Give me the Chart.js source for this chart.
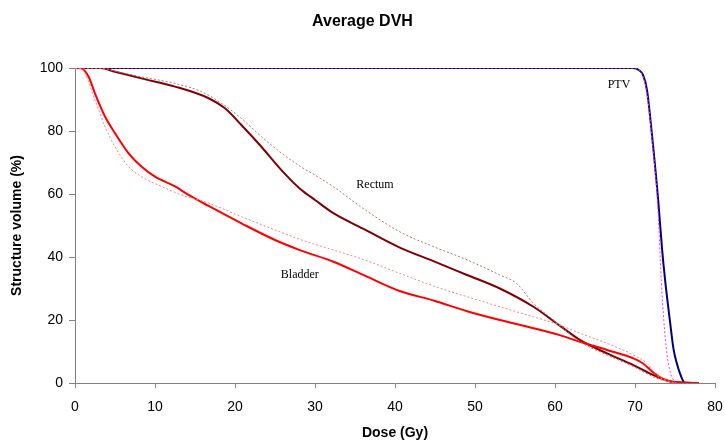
<!DOCTYPE html>
<html>
<head>
<meta charset="utf-8">
<script src="https://cdn.jsdelivr.net/npm/chart.js@4.4.0/dist/chart.umd.min.js"></script>
<style>
  html, body { margin: 0; padding: 0; background: #fff; }
  #wrap { width: 725px; height: 444px; position: relative; }
</style>
</head>
<body>
<div id="wrap"><canvas id="dvh"></canvas></div>
<script>
// dose (Gy) and structure volume (%)
const ptvDose = [0, 69.8, 70.5, 71.0, 71.5, 72.1, 72.9, 73.4, 73.75, 74.4, 74.8, 75.2, 75.7, 76.25, 77.5];
const ptvVol = [100, 100, 99.3, 97.8, 93, 79.3, 58, 42, 33, 19, 11, 6.5, 2.5, 0, 0];
const ptvAvgDose = [0, 70.0, 70.6, 71.1, 71.6, 72.1, 72.8, 73.3, 73.6, 74.0, 74.4, 74.8, 75.1];
const ptvAvgVol = [100, 100, 99, 96.5, 90, 78, 58, 32, 20, 9, 3.5, 1, 0];

const rectumDose = [0, 3.2, 5, 8.3, 12.5, 16.7, 18.75, 20.8, 23.3, 25.8, 28.2, 30, 32.3, 36.3, 40.6, 44.8, 49, 53.1, 57.3, 60.6, 63.1, 66.5, 69.8, 72.3, 74.8, 78];
const rectumVol = [100, 100, 98.8, 96.7, 94.1, 90.4, 87.2, 81.9, 75, 67.6, 61.5, 58.1, 53.9, 48.6, 43, 38.7, 34.3, 30, 24.2, 18.2, 13.7, 9.4, 5.7, 2.5, 0.3, 0];
const rectumAvgDose = [0, 3, 5, 8.3, 12.5, 15.8, 18.3, 20.8, 23.3, 25.8, 28.2, 30, 32.3, 36.3, 40.6, 44.8, 49, 53.1, 55.2, 57.3, 59.8, 61.5, 63.1, 66.5, 69.8, 72.7, 74.8];
const rectumAvgVol = [100, 100, 99, 97.2, 95.1, 92.5, 88.8, 84, 78.2, 73, 68.7, 66, 62.3, 54.9, 48, 43.3, 39.1, 34.3, 31.6, 25.3, 20, 16.3, 13.1, 8.9, 5.2, 1.5, 0.1];

const bladderDose = [0, 0.8, 1.7, 2.5, 3.75, 5, 6.7, 8.3, 10, 12.5, 14.2, 16.7, 20.8, 25, 28.1, 32.3, 36.3, 40.6, 44.8, 49, 53.1, 57.3, 60.6, 63.1, 66.5, 69.8, 71, 72.3, 73.5, 75.2, 78];
const bladderVol = [100, 99.9, 97.2, 91.9, 84.6, 79.3, 72.9, 68.7, 65.5, 62.4, 59.7, 56.2, 50.7, 45.4, 42.2, 38.5, 34, 29.2, 26.2, 22.8, 20, 17.4, 15.2, 13.1, 10.5, 7.8, 6.2, 3.3, 1.3, 0.2, 0];
const bladderAvgDose = [0, 0.6, 1.25, 2.5, 3.75, 5, 6.7, 8.3, 10.8, 13.3, 16.7, 20.8, 25, 28.1, 32.3, 36.3, 40.6, 44.8, 49, 53.1, 57.3, 60.6, 63.1, 66.5, 69.8, 71.5, 72.7, 74.4, 75.2];
const bladderAvgVol = [100, 100, 98.3, 89.8, 81.4, 75, 68.7, 65.5, 62.4, 59.7, 57.1, 52.8, 48.6, 45.6, 42.2, 39, 34.8, 30.8, 27.4, 24.2, 21, 18.4, 15.8, 12.6, 8.9, 6.2, 2.5, 0.4, 0];

const curveLabels = [
  { text: 'PTV', x: 68, y: 94.6 },
  { text: 'Rectum', x: 37.5, y: 62.9 },
  { text: 'Bladder', x: 28.1, y: 34.3 }
];

const pts = (xs, ys) => xs.map((x, i) => ({ x: x, y: ys[i] }));

const line = (label, xs, ys, color, dashed) => ({
  label: label,
  data: pts(xs, ys),
  borderColor: color,
  borderWidth: dashed ? 1 : 2,
  borderDash: dashed ? [2, 2] : [],
  pointRadius: 0,
  fill: false,
  cubicInterpolationMode: 'monotone'
});

const curveText = {
  id: 'curveText',
  afterDatasetsDraw(chart) {
    const { ctx, scales } = chart;
    ctx.save();
    ctx.font = '12px "Liberation Serif", "DejaVu Serif", serif';
    ctx.fillStyle = '#000';
    ctx.textAlign = 'center';
    ctx.textBaseline = 'middle';
    curveLabels.forEach(l => {
      ctx.fillText(l.text, scales.x.getPixelForValue(l.x), scales.y.getPixelForValue(l.y));
    });
    ctx.restore();
  }
};

const font = '"Liberation Sans", Arial, sans-serif';

new Chart(document.getElementById('dvh'), {
  type: 'line',
  data: {
    datasets: [
      line('Bladder avg', bladderAvgDose, bladderAvgVol, '#ff8080', true),
      line('Rectum avg', rectumAvgDose, rectumAvgVol, '#c07070', true),
      line('PTV avg', ptvAvgDose, ptvAvgVol, '#ff33ff', true),
      line('Bladder', bladderDose, bladderVol, '#ff0000', false),
      line('Rectum', rectumDose, rectumVol, '#800000', false),
      line('PTV', ptvDose, ptvVol, '#000080', false)
    ]
  },
  options: {
    responsive: true,
    maintainAspectRatio: false,
    animation: false,
    layout: { padding: 0 },
    plugins: {
      legend: { display: false },
      tooltip: { enabled: false },
      title: {
        display: true,
        text: 'Average DVH',
        color: '#000',
        font: { family: font, size: 16, weight: 'bold' },
        padding: { top: 12, bottom: 36.8 }
      }
    },
    scales: {
      x: {
        type: 'linear',
        min: 0,
        max: 80,
        afterFit: s => {
          s.height = 61;
          // tick padding otherwise gets added to the right margin
          s.paddingLeft = 4;
          s.paddingRight = 10;
        },
        border: { color: '#808080', width: 1 },
        grid: { drawOnChartArea: false, color: '#808080', tickLength: 5 },
        ticks: { stepSize: 10, color: '#000', padding: 11, maxRotation: 0, font: { family: font, size: 14 } },
        title: {
          display: true,
          text: 'Dose (Gy)',
          color: '#000',
          font: { family: font, size: 14, weight: 'bold' },
          padding: { top: 0, bottom: 2 }
        }
      },
      y: {
        min: 0,
        max: 100,
        afterFit: s => { s.width = 75; },
        border: { color: '#808080', width: 1 },
        grid: { drawOnChartArea: false, color: '#808080', tickLength: 6 },
        ticks: { stepSize: 20, color: '#000', padding: 6, font: { family: font, size: 14 } },
        title: {
          display: true,
          text: 'Structure volume (%)',
          color: '#000',
          font: { family: font, size: 14, weight: 'bold' },
          padding: { top: 9, bottom: 0 }
        }
      }
    }
  },
  plugins: [curveText]
});
</script>
</body>
</html>
